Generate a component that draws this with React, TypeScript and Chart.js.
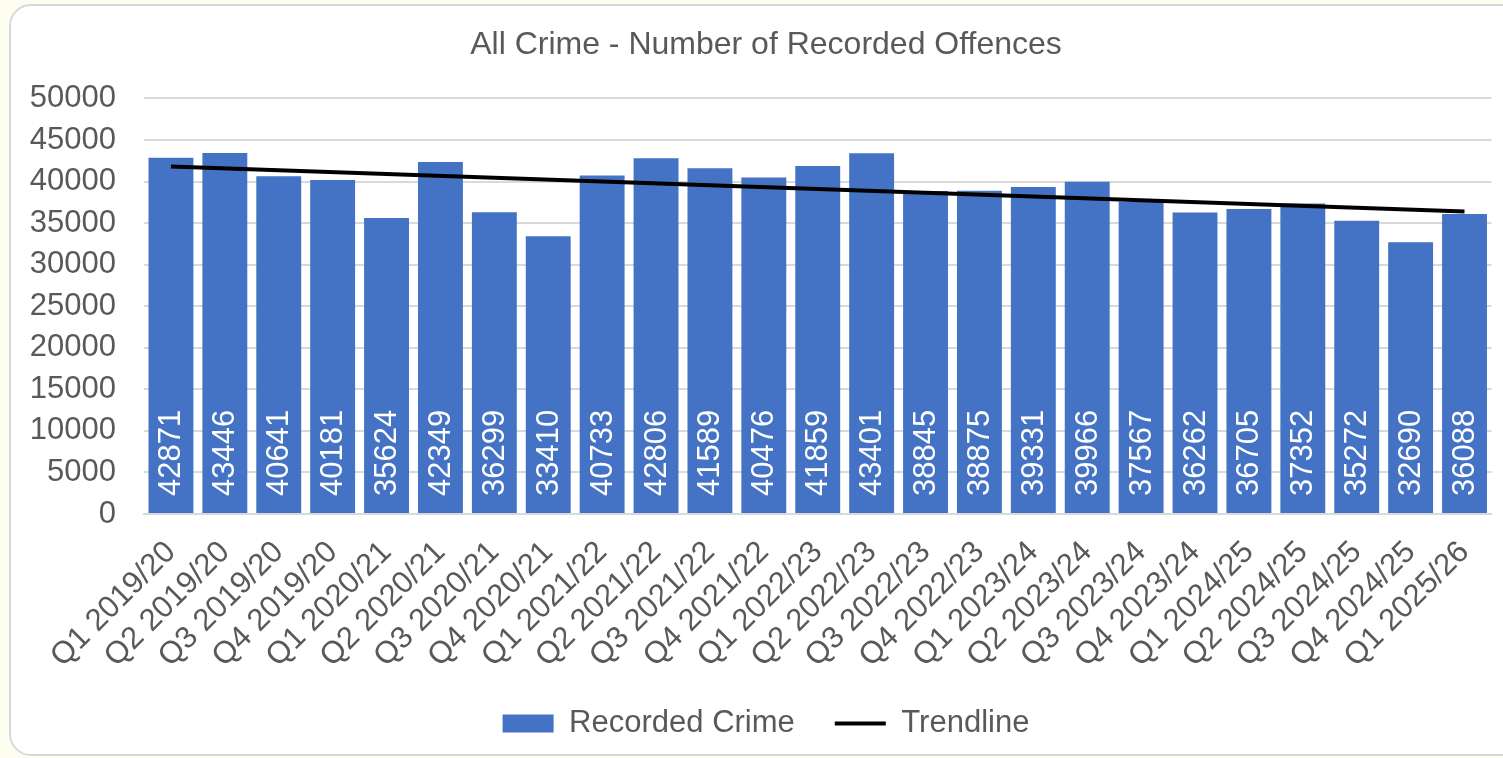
import React, { useEffect, useRef } from "react";
import { Chart, registerables } from "chart.js";

Chart.register(...registerables);

const categories = [
  "Q1 2019/20", "Q2 2019/20", "Q3 2019/20", "Q4 2019/20",
  "Q1 2020/21", "Q2 2020/21", "Q3 2020/21", "Q4 2020/21",
  "Q1 2021/22", "Q2 2021/22", "Q3 2021/22", "Q4 2021/22",
  "Q1 2022/23", "Q2 2022/23", "Q3 2022/23", "Q4 2022/23",
  "Q1 2023/24", "Q2 2023/24", "Q3 2023/24", "Q4 2023/24",
  "Q1 2024/25", "Q2 2024/25", "Q3 2024/25", "Q4 2024/25",
  "Q1 2025/26",
];

const recordedCrime = [
  42871, 43446, 40641, 40181,
  35624, 42349, 36299, 33410,
  40733, 42806, 41589, 40476,
  41859, 43401, 38845, 38875,
  39331, 39966, 37567, 36262,
  36705, 37352, 35272, 32690,
  36088,
];

// Trendline end points; intermediate points are gaps spanned by the line
const trendStart = 41800;
const trendEnd = 36400;
const trendline: (number | null)[] = categories.map((_, i) =>
  i === 0 ? trendStart : i === categories.length - 1 ? trendEnd : null
);

const yMin = 0;
const yMax = 50000;
const yStep = 5000;

const FONT = '"Liberation Sans", Arial, Helvetica, sans-serif';
const TEXT = "#595959";
const GRID = "#D9D9D9";
const BAR = "#4472C4";

const barLabels = {
  id: "barLabels",
  afterDatasetsDraw(chart: any) {
    const meta = chart.getDatasetMeta(0);
    const ctx = chart.ctx;
    ctx.save();
    ctx.fillStyle = "#FFFFFF";
    ctx.font = `31px ${FONT}`;
    ctx.textAlign = "left";
    ctx.textBaseline = "middle";
    meta.data.forEach((el: any, i: number) => {
      const { x, base } = el.getProps(["x", "base"], true);
      ctx.save();
      ctx.translate(x, base - 17);
      ctx.rotate(-Math.PI / 2);
      ctx.fillText(String(recordedCrime[i]), 0, 1);
      ctx.restore();
    });
    ctx.restore();
  },
};

// The original chart's frame is wider than the visible crop, so the title and legend sit right of the canvas centre
const shiftBoxes = {
  id: "shiftBoxes",
  afterLayout(chart: any) {
    const boxes = [chart.titleBlock, chart.legend];
    boxes.forEach((b: any) => {
      if (b) {
        b.left += 19;
        b.right += 19;
      }
    });
  },
};

export default function App() {
  const ref = useRef<HTMLCanvasElement | null>(null);

  useEffect(() => {
    if (!ref.current) return;
    const chart = new Chart(ref.current, {
      type: "bar",
      data: {
        labels: categories,
        datasets: [
          {
            type: "bar",
            label: "Recorded Crime",
            data: recordedCrime,
            backgroundColor: BAR,
            borderWidth: 0,
            barPercentage: 0.833,
            categoryPercentage: 1,
            order: 1,
            pointStyle: "rect",
          } as any,
          {
            type: "line",
            label: "Trendline",
            data: trendline,
            borderColor: "#000000",
            backgroundColor: "#000000",
            borderWidth: 4,
            pointRadius: 0,
            pointHoverRadius: 0,
            spanGaps: true,
            fill: false,
            order: 0,
            pointStyle: "line",
          } as any,
        ],
      },
      options: {
        responsive: false,
        animation: false,
        devicePixelRatio: 1,
        layout: { padding: { left: 0, right: 9, top: 0, bottom: 9 } },
        plugins: {
          title: {
            display: true,
            text: "All Crime - Number of Recorded Offences",
            color: TEXT,
            font: { family: FONT, size: 32, weight: "normal" },
            padding: { top: 26, bottom: 34 },
          },
          legend: {
            position: "bottom",
            labels: {
              color: TEXT,
              font: { family: FONT, size: 31 },
              usePointStyle: true,
              pointStyleWidth: 51,
              boxHeight: 18,
              padding: 40,
              sort: (a: any, b: any) => a.datasetIndex - b.datasetIndex,
            },
          },
          tooltip: { enabled: false },
        },
        scales: {
          x: {
            grid: { display: false },
            border: { display: true, color: GRID, width: 2 },
            ticks: {
              color: TEXT,
              font: { family: FONT, size: 31 },
              maxRotation: 45,
              minRotation: 45,
              autoSkip: false,
              padding: 12,
            },
            afterFit: (scale: any) => {
              scale.height = 154;
            },
          },
          y: {
            min: yMin,
            max: yMax,
            grid: { color: GRID, lineWidth: 2, drawTicks: false },
            border: { display: false },
            ticks: {
              stepSize: yStep,
              color: TEXT,
              font: { family: FONT, size: 31 },
              padding: 28,
              callback: (v: any) => String(v),
            },
            afterFit: (scale: any) => {
              scale.width = 144;
            },
          },
        },
      },
      plugins: [barLabels, shiftBoxes],
    });
    return () => chart.destroy();
  }, []);

  return (
    <div style={{ position: "fixed", left: 0, top: 0, width: 1503, height: 758, background: "#FEFEF0", overflow: "hidden" }}>
      <div
        style={{
          position: "absolute",
          left: 9,
          top: 4,
          width: 1520,
          height: 752,
          background: "#FFFFFF",
          border: "2px solid #D9D9D9",
          borderRadius: 22,
          boxSizing: "border-box",
        }}
      />
      <canvas
        ref={ref}
        width={1503}
        height={758}
        style={{ position: "absolute", left: 0, top: 0, width: 1503, height: 758 }}
      />
    </div>
  );
}
